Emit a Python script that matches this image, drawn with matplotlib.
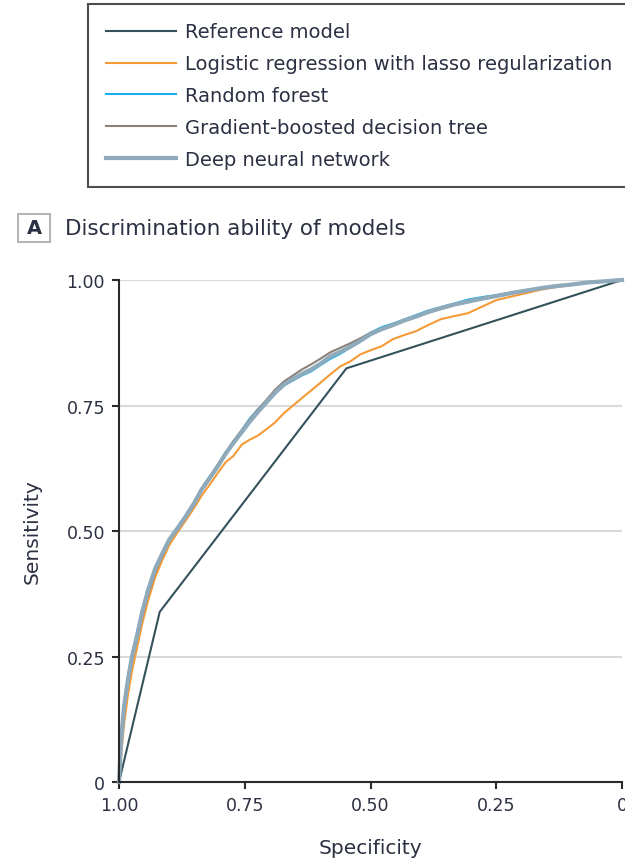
import matplotlib
matplotlib.use("Agg")
import matplotlib.pyplot as plt
from matplotlib.patches import Rectangle

plt.rcParams['font.family'] = ['DejaVu Sans']

# ---- data -------------------------------------------------------------
model_names = [
    "Reference model",
    "Logistic regression with lasso regularization",
    "Random forest",
    "Gradient-boosted decision tree",
    "Deep neural network",
]

ref_spec = [1.000, 0.919, 0.548, 0.000]
ref_sens = [0.000, 0.339, 0.824, 1.000]

ml_spec = [1.000, 0.996, 0.990, 0.982, 0.974, 0.964, 0.954, 0.942, 0.928, 0.914,
           0.900, 0.884, 0.868, 0.852, 0.836, 0.820, 0.804, 0.788, 0.772, 0.756,
           0.740, 0.724, 0.708, 0.690, 0.672, 0.654, 0.636, 0.618, 0.600, 0.580,
           0.560, 0.540, 0.520, 0.500, 0.478, 0.456, 0.434, 0.410, 0.386, 0.360,
           0.334, 0.306, 0.278, 0.250, 0.220, 0.190, 0.160, 0.130, 0.100, 0.070,
           0.040, 0.015, 0.000]

lr_sens = [0.000, 0.050, 0.115, 0.175, 0.222, 0.268, 0.315, 0.362, 0.408, 0.442,
           0.472, 0.497, 0.520, 0.544, 0.570, 0.592, 0.615, 0.637, 0.650, 0.672,
           0.682, 0.690, 0.702, 0.716, 0.735, 0.750, 0.765, 0.780, 0.795, 0.812,
           0.828, 0.838, 0.852, 0.860, 0.868, 0.882, 0.890, 0.898, 0.910, 0.922,
           0.928, 0.934, 0.947, 0.960, 0.967, 0.974, 0.981, 0.986, 0.990, 0.994,
           0.997, 0.999, 1.000]

rf_sens = [0.000, 0.085, 0.158, 0.212, 0.256, 0.298, 0.342, 0.386, 0.428, 0.456,
           0.482, 0.507, 0.531, 0.556, 0.584, 0.608, 0.630, 0.655, 0.679, 0.701,
           0.724, 0.742, 0.758, 0.776, 0.790, 0.800, 0.810, 0.818, 0.830, 0.843,
           0.853, 0.866, 0.881, 0.895, 0.906, 0.913, 0.921, 0.930, 0.939, 0.946,
           0.953, 0.961, 0.966, 0.970, 0.975, 0.980, 0.984, 0.987, 0.991, 0.995,
           0.997, 0.999, 1.000]

gbdt_sens = [0.000, 0.070, 0.140, 0.198, 0.244, 0.285, 0.330, 0.374, 0.418, 0.450,
             0.480, 0.503, 0.529, 0.555, 0.585, 0.608, 0.632, 0.657, 0.680, 0.701,
             0.722, 0.742, 0.760, 0.781, 0.798, 0.810, 0.822, 0.832, 0.843, 0.856,
             0.865, 0.874, 0.884, 0.895, 0.903, 0.910, 0.918, 0.926, 0.935, 0.942,
             0.950, 0.956, 0.962, 0.969, 0.975, 0.980, 0.984, 0.988, 0.991, 0.994,
             0.997, 0.999, 1.000]

dnn_sens = [0.000, 0.080, 0.150, 0.205, 0.250, 0.292, 0.338, 0.383, 0.425, 0.455,
            0.483, 0.505, 0.528, 0.553, 0.582, 0.605, 0.628, 0.654, 0.676, 0.697,
            0.718, 0.737, 0.755, 0.775, 0.792, 0.803, 0.813, 0.822, 0.833, 0.848,
            0.857, 0.867, 0.879, 0.892, 0.902, 0.910, 0.919, 0.927, 0.936, 0.944,
            0.951, 0.957, 0.963, 0.968, 0.974, 0.979, 0.984, 0.988, 0.991, 0.995,
            0.997, 0.999, 1.000]

tick_values = [1.00, 0.75, 0.50, 0.25, 0.00]
tick_labels = ["1.00", "0.75", "0.50", "0.25", "0"]

panel_letter = "A"
panel_title = "Discrimination ability of models"
x_label = "Specificity"
y_label = "Sensitivity"

# ---- styling ----------------------------------------------------------
TEXT = "#2b3042"
colors = ["#34525c", "#f59a35", "#1cb0ea", "#8b8179", "#8eaabb"]
widths = [1.5, 1.5, 1.5, 1.5, 3.0]

fig = plt.figure(figsize=(6.25, 8.62), dpi=100)
ax = fig.add_axes([0.1904, 0.0916, 0.8048, 0.5824])

series = [
    (ref_spec, ref_sens),
    (ml_spec, lr_sens),
    (ml_spec, rf_sens),
    (ml_spec, gbdt_sens),
    (ml_spec, dnn_sens),
]
handles = []
for i, (xs, ys) in enumerate(series):
    h, = ax.plot(xs, ys, color=colors[i], lw=widths[i], label=model_names[i],
                 solid_joinstyle="round", zorder=3 + i, clip_on=False)
    handles.append(h)

ax.set_xlim(1.0, 0.0)
ax.set_ylim(0.0, 1.0)
ax.set_xticks(tick_values)
ax.set_xticklabels(tick_labels)
ax.set_yticks(tick_values)
ax.set_yticklabels(tick_labels)

for s in ("top", "right"):
    ax.spines[s].set_visible(False)
for s in ("left", "bottom"):
    ax.spines[s].set_color("#2a2a2a")
    ax.spines[s].set_linewidth(1.5)
    ax.spines[s].set_zorder(10)

ax.tick_params(axis="both", length=5, width=1.5, color="#2a2a2a",
               labelsize=12.5, labelcolor=TEXT, pad=5)
ax.yaxis.grid(True, color="#dadada", lw=1.5)
ax.xaxis.grid(False)
ax.set_axisbelow(True)

ax.set_xlabel(x_label, fontsize=14.5, color=TEXT, labelpad=17)
ax.set_ylabel(y_label, fontsize=14.5, color=TEXT, labelpad=18)

# legend box at top of figure
leg = fig.legend(handles=handles, loc="upper left",
                 bbox_to_anchor=(88 / 625, 1 - 5 / 862),
                 bbox_transform=fig.transFigure, borderaxespad=0,
                 fontsize=14, frameon=True, fancybox=False,
                 handlelength=3.6, handletextpad=0.42, labelspacing=0.66,
                 borderpad=0.95)
leg.get_frame().set_edgecolor("#222222")
leg.get_frame().set_linewidth(1.5)
for t in leg.get_texts():
    t.set_color(TEXT)

# panel letter box and title
fig.patches.append(Rectangle((18 / 625, 1 - 243 / 862), 32 / 625, 28 / 862,
                             transform=fig.transFigure, facecolor="white",
                             edgecolor="#b5b5b5", lw=1.5))
fig.text(34 / 625, 1 - 229 / 862, panel_letter, ha="center", va="center",
         fontsize=14, fontweight="bold", color=TEXT)
fig.text(65 / 625, 1 - 229 / 862, panel_title, ha="left", va="center",
         fontsize=15.5, color=TEXT)

fig.savefig("out.png", dpi=100)
